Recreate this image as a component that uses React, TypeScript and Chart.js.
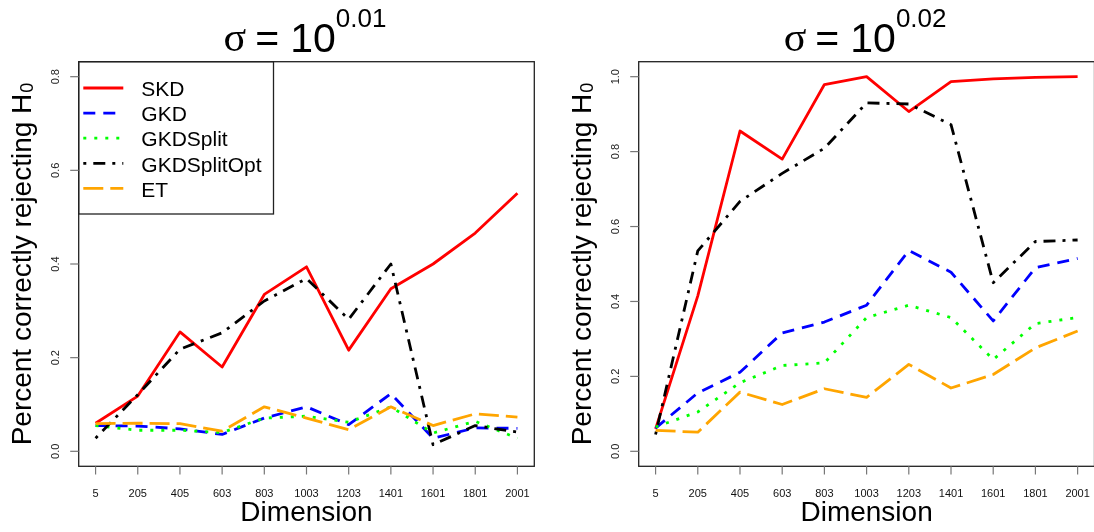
import React, { useEffect, useRef } from "react";
import { Chart, registerables } from "chart.js";

Chart.register(...registerables);

// ---------- data ----------
const dimensions = ["5", "205", "405", "603", "803", "1003", "1203", "1401", "1601", "1801", "2001"];
const seriesNames = ["SKD", "GKD", "GKDSplit", "GKDSplitOpt", "ET"];
const seriesColors = ["#ff0000", "#0000ff", "#00ff00", "#000000", "#ffa500"];
const seriesDashes: number[][] = [[], [12, 8], [3, 8], [3, 7, 12, 7], [20, 7]];

const leftSKD = [0.06, 0.118, 0.255, 0.18, 0.335, 0.394, 0.216, 0.347, 0.4, 0.466, 0.551];
const leftGKD = [0.055, 0.054, 0.048, 0.036, 0.071, 0.095, 0.057, 0.123, 0.028, 0.05, 0.049];
const leftGKDSplit = [0.055, 0.045, 0.045, 0.04, 0.071, 0.075, 0.062, 0.095, 0.039, 0.064, 0.028];
const leftGKDSplitOpt = [0.028, 0.121, 0.218, 0.253, 0.321, 0.369, 0.282, 0.4, 0.014, 0.055, 0.041];
const leftET = [0.059, 0.06, 0.059, 0.043, 0.095, 0.071, 0.046, 0.095, 0.055, 0.08, 0.073];

const rightSKD = [0.06, 0.415, 0.855, 0.78, 0.979, 1.0, 0.907, 0.987, 0.994, 0.998, 1.0];
const rightGKD = [0.062, 0.156, 0.211, 0.316, 0.345, 0.39, 0.536, 0.478, 0.348, 0.49, 0.515];
const rightGKDSplit = [0.065, 0.105, 0.183, 0.229, 0.236, 0.357, 0.39, 0.357, 0.245, 0.341, 0.357];
const rightGKDSplitOpt = [0.045, 0.535, 0.667, 0.742, 0.809, 0.93, 0.927, 0.872, 0.45, 0.56, 0.564];
const rightET = [0.056, 0.051, 0.158, 0.125, 0.167, 0.144, 0.232, 0.169, 0.205, 0.276, 0.321];

const leftYTicks = [0, 0.2, 0.4, 0.6, 0.8];
const rightYTicks = [0, 0.2, 0.4, 0.6, 0.8, 1.0];
const leftExponent = "0.01";
const rightExponent = "0.02";
const xTitle = "Dimension";
const yTitle = "Percent correctly rejecting H";
const yTitleSub = "0";

const SANS = '"Liberation Sans", Arial, sans-serif';
const SERIF = '"Liberation Serif", "DejaVu Serif", serif';

const rDecor = {
  id: "rDecor",
  afterDraw(chart: any, _args: any, opts: any) {
    const ctx: CanvasRenderingContext2D = chart.ctx;
    const a = chart.chartArea;
    const xs = chart.scales.x;
    const ys = chart.scales.y;
    ctx.save();

    // legend (drawn over data)
    if (opts.legend) {
      const lx = a.left, ly = a.top, lw = 273.5 - 78.7, lh = 214 - 61.7;
      ctx.fillStyle = "#ffffff";
      ctx.fillRect(lx, ly, lw, lh);
      ctx.strokeStyle = "#222";
      ctx.lineWidth = 1.3;
      ctx.strokeRect(lx, ly, lw, lh);
      seriesNames.forEach((name, i) => {
        const y = a.top + 26.3 + i * 25.1;
        ctx.beginPath();
        ctx.setLineDash(seriesDashes[i]);
        ctx.strokeStyle = seriesColors[i];
        ctx.lineWidth = 2.8;
        ctx.lineCap = "butt";
        ctx.moveTo(a.left + 4.6, y);
        ctx.lineTo(a.left + 44.6, y);
        ctx.stroke();
        ctx.setLineDash([]);
        ctx.fillStyle = "#000";
        ctx.font = `21px ${SANS}`;
        ctx.textAlign = "left";
        ctx.textBaseline = "alphabetic";
        ctx.fillText(name, a.left + 62.6, y + 8.2);
      });
    }

    // box
    ctx.setLineDash([]);
    ctx.strokeStyle = "#222";
    ctx.lineWidth = 1.3;
    ctx.strokeRect(a.left, a.top, a.right - a.left, a.bottom - a.top);

    // x ticks + labels
    ctx.font = `11px ${SANS}`;
    dimensions.forEach((d, i) => {
      const px = xs.getPixelForValue(i + 1);
      ctx.strokeStyle = "#777";
      ctx.lineWidth = 1.2;
      ctx.beginPath();
      ctx.moveTo(px, a.bottom);
      ctx.lineTo(px, a.bottom + 8.2);
      ctx.stroke();
      ctx.fillStyle = "#111";
      ctx.textAlign = "center";
      ctx.textBaseline = "alphabetic";
      ctx.fillText(d, px, 496.5);
    });

    // y ticks + rotated labels
    (opts.yTicks as number[]).forEach((v) => {
      const py = ys.getPixelForValue(v);
      ctx.strokeStyle = "#777";
      ctx.lineWidth = 1.2;
      ctx.beginPath();
      ctx.moveTo(a.left - 8.5, py);
      ctx.lineTo(a.left, py);
      ctx.stroke();
      ctx.save();
      ctx.translate(a.left - 23.5 + 4, py);
      ctx.rotate(-Math.PI / 2);
      ctx.fillStyle = "#222";
      ctx.font = `11px ${SANS}`;
      ctx.textAlign = "center";
      ctx.textBaseline = "alphabetic";
      ctx.fillText(v.toFixed(1), 0, 0);
      ctx.restore();
    });

    // x title
    const cx = (a.left + a.right) / 2;
    const cy = (a.top + a.bottom) / 2;
    ctx.fillStyle = "#000";
    ctx.font = `28px ${SANS}`;
    ctx.textAlign = "center";
    ctx.textBaseline = "alphabetic";
    ctx.fillText(xTitle, cx, 521);

    // y title (rotated) with subscript
    ctx.save();
    ctx.translate(a.left - 48, cy);
    ctx.rotate(-Math.PI / 2);
    ctx.font = `28px ${SANS}`;
    const wMain = ctx.measureText(yTitle).width;
    ctx.font = `18px ${SANS}`;
    const wSub = ctx.measureText(yTitleSub).width;
    const start = -(wMain + wSub + 1) / 2;
    ctx.textAlign = "left";
    ctx.font = `28px ${SANS}`;
    ctx.fillText(yTitle, start, 0);
    ctx.font = `18px ${SANS}`;
    ctx.fillText(yTitleSub, start + wMain + 1, 2);
    ctx.restore();

    // main title: sigma = 10^exp
    ctx.textAlign = "left";
    ctx.font = `42px ${SERIF}`;
    const wSig = ctx.measureText("σ").width;
    ctx.font = `41px ${SANS}`;
    const wEq = ctx.measureText("=").width;
    const wTen = ctx.measureText("10").width;
    ctx.font = `26px ${SANS}`;
    const wExp = ctx.measureText(opts.exponent).width;
    const g1 = 9, g2 = 11;
    const total = wSig + g1 + wEq + g2 + wTen + wExp;
    let x = cx - 1.5 - total / 2;
    ctx.font = `42px ${SERIF}`;
    ctx.fillText("σ", x, 51);
    x += wSig + g1;
    ctx.font = `41px ${SANS}`;
    ctx.fillText("=", x, 51.5);
    x += wEq + g2;
    ctx.fillText("10", x, 51.5);
    x += wTen;
    ctx.font = `26px ${SANS}`;
    ctx.fillText(opts.exponent, x, 26.7);

    ctx.restore();
  },
};

function makeConfig(values: number[][], yMin: number, yMax: number, yTicks: number[], exponent: string, legend: boolean, pad: any) {
  return {
    type: "line" as const,
    data: {
      datasets: values.map((vals, i) => ({
        label: seriesNames[i],
        data: vals.map((v, j) => ({ x: j + 1, y: v })),
        borderColor: seriesColors[i],
        backgroundColor: seriesColors[i],
        borderWidth: 2.8,
        borderDash: seriesDashes[i],
        borderCapStyle: "butt" as const,
        borderJoinStyle: "round" as const,
        pointRadius: 0,
        tension: 0,
        fill: false,
        order: values.length - i,
      })),
    },
    options: {
      responsive: false,
      animation: false as const,
      layout: { padding: pad },
      scales: {
        x: { type: "linear" as const, min: 0.6, max: 11.4, display: false },
        y: { type: "linear" as const, min: yMin, max: yMax, display: false },
      },
      plugins: {
        legend: { display: false },
        tooltip: { enabled: false },
        rDecor: { yTicks, exponent, legend },
      },
    },
    plugins: [rDecor],
  };
}

export default function App() {
  const leftRef = useRef<HTMLCanvasElement | null>(null);
  const rightRef = useRef<HTMLCanvasElement | null>(null);

  useEffect(() => {
    const left = new Chart(
      leftRef.current as HTMLCanvasElement,
      makeConfig(
        [leftSKD, leftGKD, leftGKDSplit, leftGKDSplitOpt, leftET],
        -0.032, 0.832, leftYTicks, leftExponent, true,
        { left: 78.7, top: 61.7, right: 552 - 534.3, bottom: 532 - 466.3 }
      ) as any
    );
    const right = new Chart(
      rightRef.current as HTMLCanvasElement,
      makeConfig(
        [rightSKD, rightGKD, rightGKDSplit, rightGKDSplitOpt, rightET],
        -0.04, 1.04, rightYTicks, rightExponent, false,
        { left: 638.7 - 552, top: 61.7, right: 544 - (1094.5 - 552), bottom: 532 - 466.3 }
      ) as any
    );
    return () => {
      left.destroy();
      right.destroy();
    };
  }, []);

  return (
    <div style={{ position: "fixed", left: 0, top: 0, width: 1094, height: 532, overflow: "hidden", background: "#fff" }}>
      <canvas ref={leftRef} width={552} height={532} style={{ position: "absolute", left: 0, top: 0, width: 552, height: 532 }} />
      <canvas ref={rightRef} width={544} height={532} style={{ position: "absolute", left: 552, top: 0, width: 544, height: 532 }} />
    </div>
  );
}
